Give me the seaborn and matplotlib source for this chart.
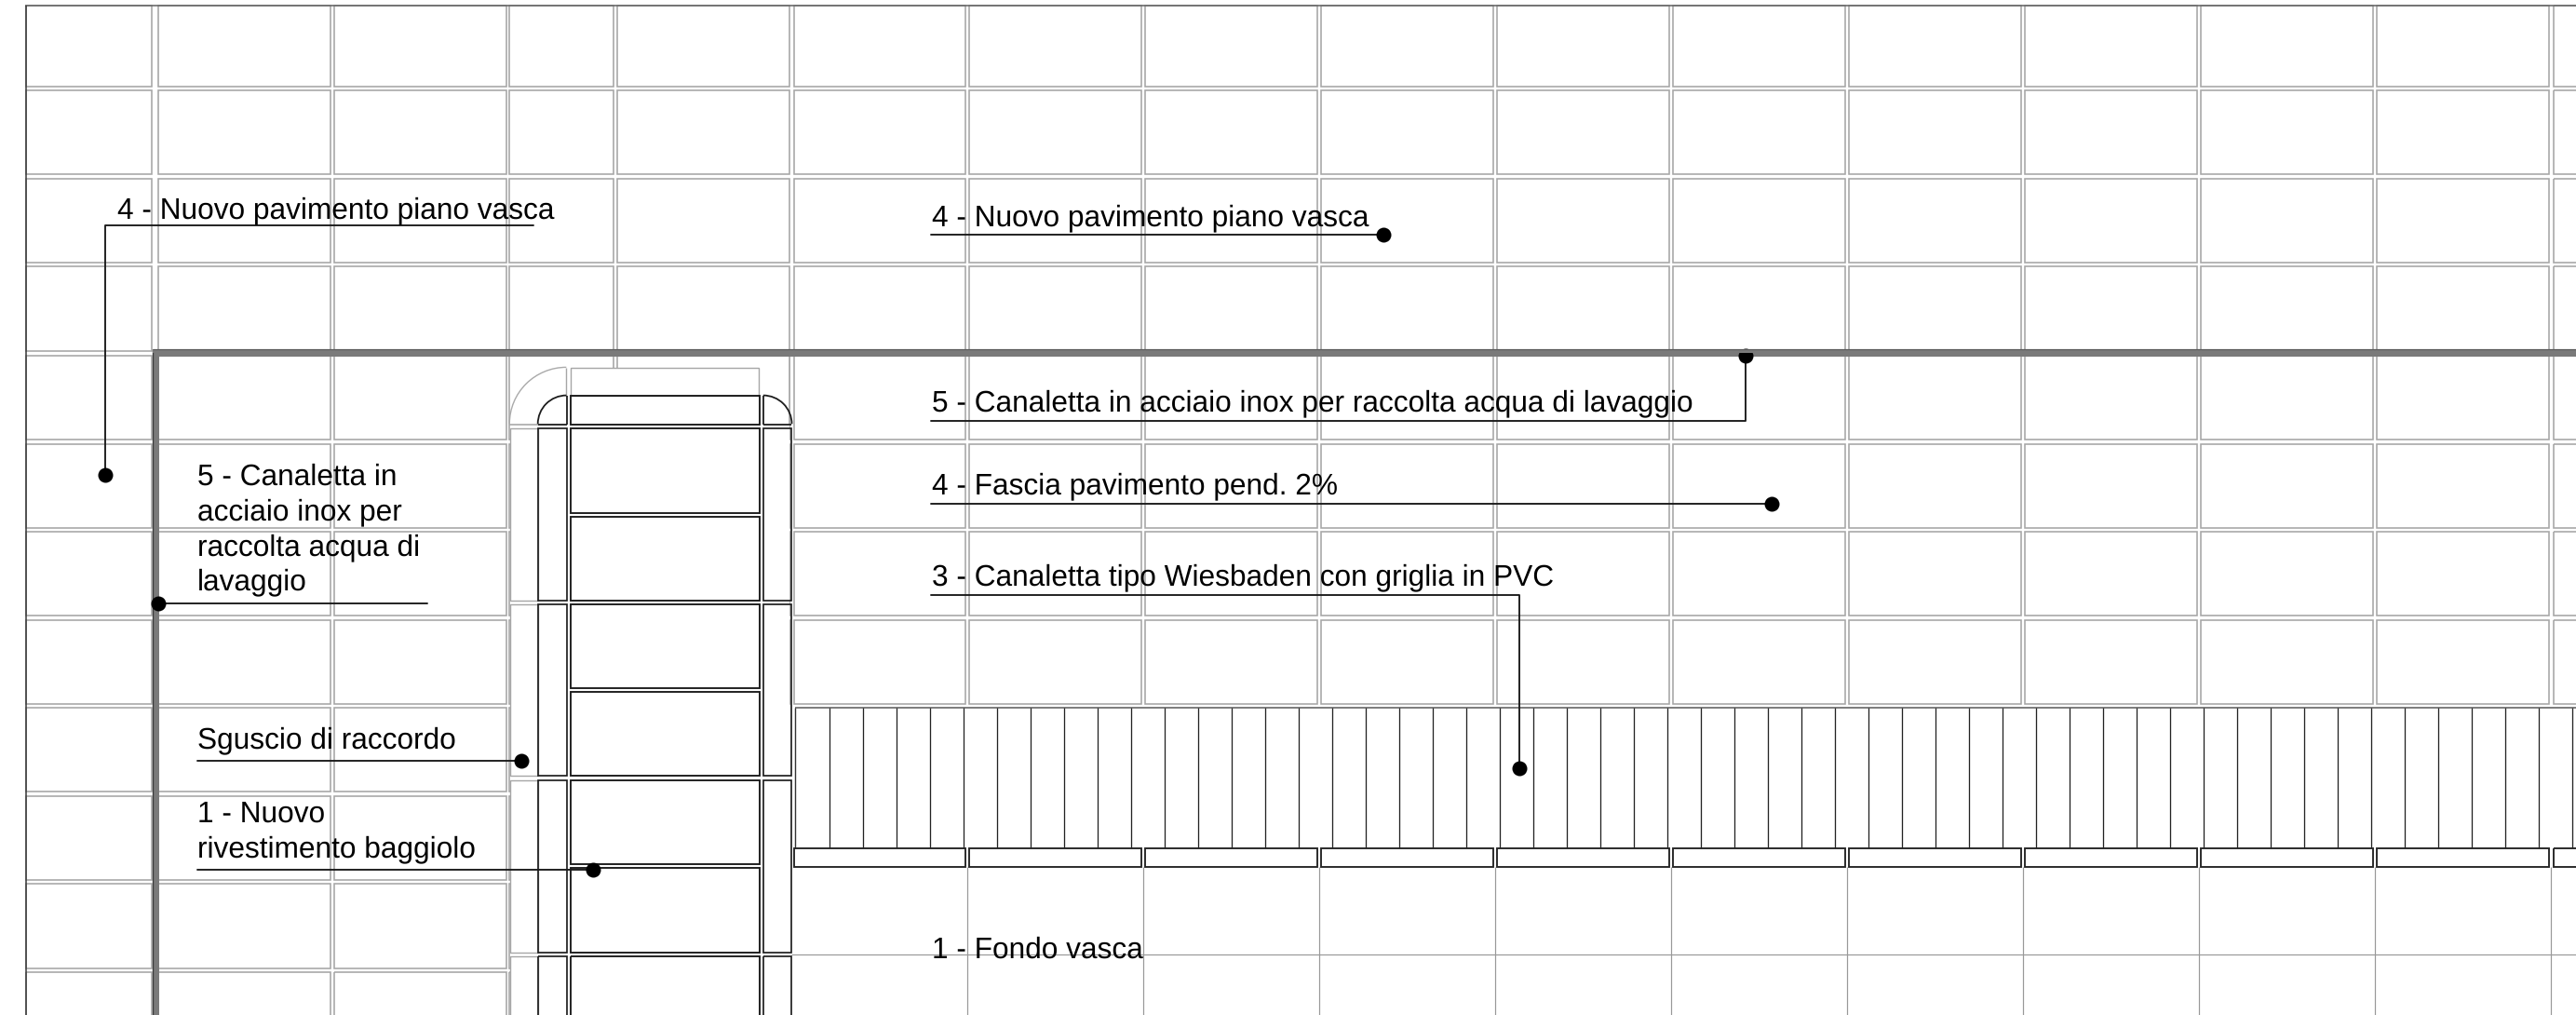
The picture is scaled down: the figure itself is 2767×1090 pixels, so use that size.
#!/usr/bin/env python3
"""Floor plan detail of the basin: tile grid, drain channel, baggiolo and leader notes."""

import matplotlib
matplotlib.use("Agg")
import matplotlib.pyplot as plt
import pandas as pd
import seaborn as sns
from matplotlib.patches import Arc, Rectangle

# =============================================================================
# Data (drawing units are pixels of the sheet)
# =============================================================================

SHEET_W = 2767
SHEET_H = 1090

# Floor tiles
TILE_LEFT = [27.5, 169.6, 358.5, 547.3, 663.4, 852.6, 1041.4, 1230.2, 1419.0, 1607.9,
             1796.8, 1985.8, 2174.9, 2364.3, 2553.4, 2742.6]
TILE_RIGHT = [163.4, 354.5, 543.7, 659.0, 848.4, 1037.2, 1226.1, 1415.0, 1603.9, 1792.9,
              1981.9, 2170.9, 2360.0, 2549.3, 2737.9, 2800.0]
TILE_TOP = [5.7, 96.3, 191.0, 285.5, 381.0, 476.0, 570.7, 665.0, 759.3, 854.0, 948.7, 1043.3]
TILE_BOTTOM = [92.0, 186.7, 281.5, 376.5, 471.7, 566.7, 660.7, 755.0, 849.3, 944.3, 1039.0, 1100.0]

# Channel
CHANNEL_BARS = [890.7, 926.7, 962.7, 998.7, 1034.7, 1070.7, 1106.7, 1142.7, 1178.7, 1214.7,
                1250.7, 1286.7, 1322.7, 1358.7, 1394.7, 1430.7, 1466.7, 1502.7, 1538.7, 1574.7,
                1610.7, 1646.7, 1682.7, 1718.7, 1754.7, 1790.7, 1826.7, 1862.7, 1898.7, 1934.7,
                1970.7, 2006.7, 2042.7, 2078.7, 2114.7, 2150.7, 2186.7, 2222.7, 2258.7, 2294.7,
                2330.7, 2366.7, 2402.7, 2438.7, 2474.7, 2510.7, 2546.7, 2582.7, 2618.7, 2654.7,
                2690.7, 2726.7, 2762.7]
CHANNEL_LEFT = 853.5
CHANNEL_TOP = 759.3
CHANNEL_BOTTOM = 910.7
STRIP_BOTTOM = 930.0

# Basin bottom joints
BOTTOM_X = [1039.3, 1228.3, 1417.2, 1606.1, 1795.0, 1984.0, 2172.9, 2362.3, 2551.3, 2740.3]
BOTTOM_Y = 1024.0

# Baggiolo
CENTRE_TOP = [424.0, 459.0, 554.0, 648.3, 742.7, 837.3, 931.7, 1026.0]
CENTRE_BOTTOM = [455.0, 550.0, 644.0, 738.7, 832.7, 927.7, 1022.3, 1100.0]
SIDE_TOP = [459.0, 648.3, 837.3, 1026.0]
SIDE_BOTTOM = [644.0, 832.7, 1022.3, 1100.0]

# Wall
WALL_X = [163.6, 170.5]
WALL_Y = [374.6, 382.2]

# Leaders: one polyline per note
LEADER_X = [[572.8, 113.0, 113.0], [1000.0, 1486.0], [1000.0, 1875.0, 1875.0], [1000.0, 1903.0],
            [1000.0, 1632.0, 1632.0], [169.5, 459.0], [212.0, 560.0], [212.0, 636.6]]
LEADER_Y = [[241.0, 241.0, 509.0], [251.7, 251.7], [451.0, 451.0, 381.7], [540.0, 540.0],
            [638.0, 638.0, 824.0], [647.0, 647.0], [816.7, 816.7], [933.7, 933.7]]
DOT_X = [113.0, 1486.0, 1875.0, 1903.0, 1632.0, 169.5, 560.0, 636.6]
DOT_Y = [509.0, 251.7, 381.7, 540.0, 824.0, 647.0, 816.7, 933.7]

# Notes
NOTE_TEXT = ["4 - Nuovo pavimento piano vasca", "4 - Nuovo pavimento piano vasca",
             "5 - Canaletta in acciaio inox per raccolta acqua di lavaggio",
             "4 - Fascia pavimento pend. 2%", "3 - Canaletta tipo Wiesbaden con griglia in PVC",
             "1 - Fondo vasca", "5 - Canaletta in", "acciaio inox per", "raccolta acqua di",
             "lavaggio", "Sguscio di raccordo", "1 - Nuovo", "rivestimento baggiolo"]
NOTE_X = [126.0, 1000.7, 1000.7, 1000.7, 1000.7, 1000.7, 212.0, 212.0, 212.0, 212.0, 212.0, 212.0, 212.0]
NOTE_Y = [234.3, 241.7, 441.0, 530.0, 628.0, 1028.5, 520.3, 558.3, 596.0, 633.3, 803.3, 882.3, 920.3]

# =============================================================================
# Style
# =============================================================================

TILE_COLOR = "#a6a6a6"
JOINT_COLOR = "#999999"
WALL_COLOR = "#7a7a7a"
INK = "#1c1c1c"
FONT_PX = 31.6


def px(width):
    """Sheet pixels to points."""
    return width * 72 / 100


sns.set_style("white")
plt.rcParams["font.family"] = ["Liberation Sans", "DejaVu Sans"]
plt.rcParams["text.hinting"] = "none"

fig = plt.figure(figsize=(SHEET_W / 100, SHEET_H / 100), dpi=100)
ax = fig.add_axes([0, 0, 1, 1])


def box(x0, y0, x1, y1, color, width, z=2):
    ax.add_patch(Rectangle((x0, y0), x1 - x0, y1 - y0, fill=False, edgecolor=color,
                           linewidth=px(width), zorder=z))


def fill(x0, y0, x1, y1, color, z):
    ax.add_patch(Rectangle((x0, y0), x1 - x0, y1 - y0, facecolor=color, edgecolor="none", zorder=z))


# =============================================================================
# Tile grid
# =============================================================================

for left, right in zip(TILE_LEFT, TILE_RIGHT):
    for top, bottom in zip(TILE_TOP, TILE_BOTTOM):
        box(left, top, right, bottom, TILE_COLOR, 1.6, z=1)

# Nothing of the floor shows under the baggiolo and the basin
fill(548.2, 382.5, 847.6, 1100, "white", 1.2)
fill(847.6, 756.5, 2800, 1100, "white", 1.2)

# Outer border
ax.hlines(5.7, 27, SHEET_W, color="#666666", linewidth=px(1.6), zorder=3)
ax.vlines(27.5, 5, SHEET_H, color="#333333", linewidth=px(1.5), zorder=3)

# =============================================================================
# Baggiolo
# =============================================================================

ax.vlines([659.0, 663.4], 382, 394, color=TILE_COLOR, linewidth=px(1.6), zorder=2)
ax.vlines(848.4, 382, 455, color=TILE_COLOR, linewidth=px(1.6), zorder=2)
box(612.7, 394, 815.3, 424, TILE_COLOR, 1.4)
ax.add_patch(Arc((608.3, 454.4), 122, 121, theta1=180, theta2=270, color="#aaaaaa",
                 linewidth=px(1.4), zorder=2))
ax.vlines(608.3, 394, 424, color=TILE_COLOR, linewidth=px(1.4), zorder=2)
ax.hlines(455.0, 547.3, 577.7, color=TILE_COLOR, linewidth=px(1.6), zorder=2)

for top, bottom in zip(SIDE_TOP, SIDE_BOTTOM):
    box(547.5, top, 577.7, bottom, TILE_COLOR, 1.4)
    box(577.7, top, 608.5, bottom, INK, 1.7, z=4)
    box(819.8, top, 850.2, bottom, INK, 1.7, z=4)

for top, bottom in zip(CENTRE_TOP, CENTRE_BOTTOM):
    box(612.7, top, 815.5, bottom, INK, 1.9, z=4)

# Rounded corner pieces
ax.add_patch(Arc((608.4, 454.8), 61.4, 61.4, theta1=180, theta2=270, color=INK, linewidth=px(1.8), zorder=4))
ax.add_patch(Arc((819.8, 454.8), 61.4, 61.4, theta1=270, theta2=360, color=INK, linewidth=px(1.8), zorder=4))
ax.vlines([608.5, 819.8], 424, 455, color=INK, linewidth=px(1.8), zorder=4)
ax.hlines(455.0, 577.7, 608.5, color=INK, linewidth=px(1.8), zorder=4)
ax.hlines(455.0, 819.8, 850.2, color=INK, linewidth=px(1.8), zorder=4)

# =============================================================================
# Channel and basin bottom
# =============================================================================

ax.hlines(CHANNEL_TOP, CHANNEL_LEFT, 2800, color="#555555", linewidth=px(1.5), zorder=3)
ax.vlines(CHANNEL_LEFT, CHANNEL_TOP, CHANNEL_BOTTOM, color="#333333", linewidth=px(1.4), zorder=3)
ax.vlines(CHANNEL_BARS, CHANNEL_TOP, CHANNEL_BOTTOM, color="#222222", linewidth=px(1.3), zorder=3)

for left, right in zip(TILE_LEFT[5:], TILE_RIGHT[5:]):
    box(left, CHANNEL_BOTTOM, right, STRIP_BOTTOM, "#262626", 1.9, z=4)

ax.vlines(BOTTOM_X, STRIP_BOTTOM, SHEET_H, color=JOINT_COLOR, linewidth=px(1.2), zorder=2)
ax.hlines(BOTTOM_Y, 850.2, SHEET_W, color=JOINT_COLOR, linewidth=px(1.2), zorder=2)

# =============================================================================
# Wall: the vertical run sits under the dots, the top of the horizontal run above
# =============================================================================

fill(WALL_X[0], WALL_Y[0], WALL_X[1], SHEET_H, WALL_COLOR, 5)
fill(WALL_X[0], 378.6, SHEET_W, WALL_Y[1], WALL_COLOR, 5)
fill(WALL_X[0], WALL_Y[0], SHEET_W, 378.6, WALL_COLOR, 8)
ax.vlines(WALL_X[0], WALL_Y[0], SHEET_H, color="#3a3a3a", linewidth=px(1.3), zorder=5)
ax.hlines(WALL_Y[0], WALL_X[0], SHEET_W, color="#5a5a5a", linewidth=px(1.2), zorder=8)

# =============================================================================
# Leaders and notes
# =============================================================================

leaders = pd.DataFrame(
    [
        {"leader": i, "step": j, "x": x, "y": y}
        for i, (xs, ys) in enumerate(zip(LEADER_X, LEADER_Y))
        for j, (x, y) in enumerate(zip(xs, ys))
    ]
)
sns.lineplot(data=leaders, x="x", y="y", units="leader", estimator=None, sort=False,
             color=INK, linewidth=px(1.9), legend=False, ax=ax, zorder=6)
sns.scatterplot(x=DOT_X, y=DOT_Y, s=px(16) ** 2, color="black", linewidth=0, legend=False,
                ax=ax, zorder=7)

for text, x, y in zip(NOTE_TEXT, NOTE_X, NOTE_Y):
    ax.text(x, y, text, fontsize=px(FONT_PX), color="black", ha="left", va="baseline", zorder=9)

ax.set_xlim(0, SHEET_W)
ax.set_ylim(SHEET_H - 0.5, -0.5)
ax.axis("off")

fig.savefig("out.png", dpi=100, facecolor="white")
plt.close(fig)
